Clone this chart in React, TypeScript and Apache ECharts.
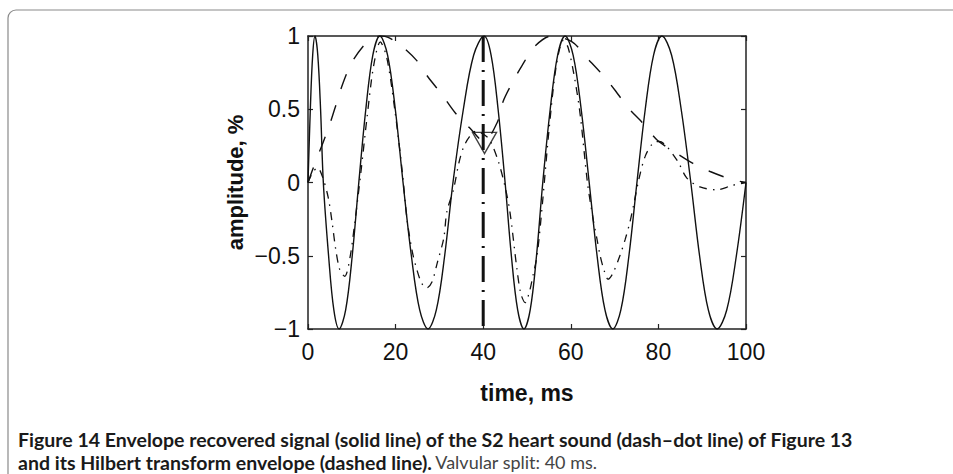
import React, { useEffect, useRef } from 'react';
import * as echarts from 'echarts';

// Envelope recovered signal (solid line)
const solidTime = [0, 0.53, 1.07, 1.6, 2.23, 2.87, 3.5, 4.7, 5.9, 7.1, 8.6, 10.1, 11.6, 13.2, 14.8, 16.4, 18.17, 19.93, 21.7, 23.6, 25.5, 27.4, 29.3, 31.2, 33.1, 35.47, 37.83, 40.2, 41.8, 43.4, 45, 46.43, 47.87, 49.3, 50.73, 52.17, 53.6, 55.3, 57.0, 58.7, 60.53, 62.37, 64.2, 66.0, 67.8, 69.6, 71.43, 73.27, 75.1, 77.0, 78.9, 80.8, 83.0, 85.2, 87.4, 89.4, 91.4, 93.4, 95.6, 97.8, 100];
const solidAmp = [0, 0.5, 0.87, 1, 0.87, 0.5, 0, -0.5, -0.87, -1, -0.87, -0.5, 0, 0.5, 0.87, 1, 0.87, 0.5, 0, -0.5, -0.87, -1, -0.87, -0.5, 0, 0.5, 0.87, 1, 0.87, 0.5, 0, -0.5, -0.87, -1, -0.87, -0.5, 0, 0.5, 0.87, 1, 0.87, 0.5, 0, -0.5, -0.87, -1, -0.87, -0.5, 0, 0.5, 0.87, 1, 0.87, 0.5, 0, -0.5, -0.87, -1, -0.87, -0.5, 0];

// Hilbert transform envelope (dashed line)
const hilbertTime = [0, 1.7, 3.4, 5, 6.6, 8, 10, 12.6, 14.5, 16.8, 18.3, 21, 24.9, 27.4, 30.6, 33.5, 37, 40.2, 43.2, 44.5, 46.8, 48.9, 51.8, 55.5, 60.3, 63.7, 67.1, 70.1, 73.1, 76.3, 79.7, 83.1, 87.9, 91.8, 96.8, 100];
const hilbertAmp = [0, 0.14, 0.27, 0.4, 0.55, 0.68, 0.82, 0.93, 0.98, 1.0, 0.99, 0.94, 0.83, 0.72, 0.6, 0.48, 0.37, 0.28, 0.41, 0.55, 0.69, 0.8, 0.93, 1.0, 0.96, 0.85, 0.74, 0.63, 0.51, 0.41, 0.29, 0.22, 0.13, 0.075, 0.02, 0];

// S2 heart sound (dash-dot line)
const s2Time = [0, 1.1, 2.2, 3.3, 4.6, 5.5, 6.3, 7.3, 8.4, 9.6, 10.7, 12.0, 13.5, 15, 16.5, 18, 19.8, 21.5, 22.6, 23.8, 24.9, 26, 27.1, 28.3, 29.5, 31, 31.7, 33.2, 34.5, 35.5, 36.8, 38.3, 40, 41.5, 43.5, 45, 46.1, 47.7, 48.6, 49.6, 50.6, 51.4, 52.3, 53.5, 55, 56.7, 58.3, 59.4, 61, 62.2, 63.8, 65.1, 66, 66.7, 67.6, 68.5, 69.6, 71.2, 72.4, 73.5, 74.3, 75.6, 77, 78.8, 80.2, 81.8, 84.5, 86.5, 89.5, 93.4, 96.8, 100];
const s2Amp = [0, 0.07, 0.1, 0.04, -0.1, -0.27, -0.45, -0.6, -0.64, -0.51, -0.27, 0.05, 0.45, 0.8, 0.96, 0.85, 0.5, 0.08, -0.25, -0.47, -0.6, -0.69, -0.72, -0.68, -0.55, -0.38, -0.2, -0.05, 0.14, 0.24, 0.31, 0.35, 0.33, 0.29, 0.14, -0.03, -0.2, -0.59, -0.76, -0.82, -0.74, -0.63, -0.5, -0.15, 0.35, 0.8, 0.97, 0.92, 0.69, 0.45, 0.0, -0.25, -0.39, -0.5, -0.6, -0.66, -0.62, -0.5, -0.39, -0.27, -0.16, 0.03, 0.18, 0.27, 0.28, 0.25, 0.14, 0.03, -0.03, -0.05, -0.02, 0];

// Valvular split marker
const splitTime = 40;
const splitRange = [1, -1];
const markerPoint = [40.3, 0.27];

const xTicks = [0, 20, 40, 60, 80, 100];
const yTicks = [-1, -0.5, 0, 0.5, 1];
const yTickLabels = ['\u22121', '\u22120.5', '0', '0.5', '1'];

const captionLine1 = 'Figure 14 Envelope recovered signal (solid line) of the S2 heart sound (dash\u2013dot line) of Figure 13';
const captionLine2Bold = 'and its Hilbert transform envelope (dashed line).';
const captionLine2Normal = 'Valvular split: 40 ms.';

const pairs = (t: number[], v: number[]) => t.map((x, i) => [x, v[i]]);

const INK = '#111';
const AXIS = '#222';
const labelFont = '"Liberation Sans", Arial, Helvetica, sans-serif';
const capFont = 'Lato, "Open Sans", sans-serif';

function buildOption() {
  const axisCommon = {
    type: 'value' as const,
    axisLine: { show: true, onZero: false, lineStyle: { color: AXIS, width: 1.5 } },
    axisTick: { show: true, inside: true, length: 5, lineStyle: { color: AXIS, width: 1.2 } },
    splitLine: { show: false },
  };
  return {
    animation: false,
    backgroundColor: '#fff',
    grid: { left: 308, right: 207, top: 36, bottom: 145, containLabel: false },
    xAxis: [
      {
        ...axisCommon,
        position: 'bottom',
        min: xTicks[0],
        max: xTicks[xTicks.length - 1],
        interval: 20,
        name: 'time, ms',
        nameLocation: 'middle',
        nameGap: 52,
        nameTextStyle: { fontFamily: labelFont, fontWeight: 'bold', fontSize: 23, color: INK },
        axisLabel: { show: true, margin: 11, fontFamily: labelFont, fontSize: 23, color: INK },
      },
      {
        ...axisCommon,
        position: 'top',
        min: xTicks[0],
        max: xTicks[xTicks.length - 1],
        interval: 20,
        axisLabel: { show: false },
      },
    ],
    yAxis: [
      {
        ...axisCommon,
        position: 'left',
        min: yTicks[0],
        max: yTicks[yTicks.length - 1],
        interval: 0.5,
        name: 'amplitude, %',
        nameLocation: 'middle',
        nameGap: 62,
        nameTextStyle: { fontFamily: labelFont, fontWeight: 'bold', fontSize: 22, color: INK },
        axisLabel: {
          show: true,
          margin: 8,
          fontFamily: labelFont,
          fontSize: 23,
          color: INK,
          formatter: (v: number) => {
            const i = yTicks.findIndex((t) => Math.abs(t - v) < 1e-9);
            return i >= 0 ? yTickLabels[i] : String(v);
          },
        },
      },
      {
        ...axisCommon,
        position: 'right',
        min: yTicks[0],
        max: yTicks[yTicks.length - 1],
        interval: 0.5,
        axisLabel: { show: false },
      },
    ],
    series: [
      {
        name: 'envelope recovered',
        type: 'line',
        data: pairs(solidTime, solidAmp),
        smooth: 0.35,
        symbol: 'none',
        lineStyle: { color: INK, width: 1.4, type: 'solid' },
        silent: true,
        z: 3,
      },
      {
        name: 'Hilbert envelope',
        type: 'line',
        data: pairs(hilbertTime, hilbertAmp),
        smooth: 0.3,
        symbol: 'none',
        lineStyle: { color: INK, width: 1.4, type: [16, 17] },
        silent: true,
        z: 3,
      },
      {
        name: 'S2 heart sound',
        type: 'line',
        data: pairs(s2Time, s2Amp),
        smooth: 0.3,
        symbol: 'none',
        lineStyle: { color: INK, width: 1.3, type: [8, 6, 1.5, 6] },
        silent: true,
        z: 3,
      },
      {
        name: 'split',
        type: 'line',
        data: splitRange.map((v) => [splitTime, v]),
        symbol: 'none',
        lineStyle: { color: INK, width: 3, type: [26, 8, 2, 8] },
        silent: true,
        z: 4,
      },
      {
        name: 'marker',
        type: 'scatter',
        data: [markerPoint],
        symbol: 'triangle',
        symbolRotate: 180,
        symbolSize: [24, 21],
        itemStyle: { color: 'rgba(0,0,0,0)', borderColor: INK, borderWidth: 1.4 },
        silent: true,
        z: 5,
      },
    ],
    graphic: [
      {
        type: 'rect',
        shape: { x: 8, y: 10, width: 960, height: 480, r: 8 },
        style: { fill: 'none', stroke: '#8a8a8a', lineWidth: 1.2 },
        silent: true,
        z: -10,
      },
      {
        type: 'text',
        left: 18,
        top: 429,
        style: {
          text: captionLine1,
          fontFamily: capFont,
          fontWeight: 'bold',
          fontSize: 19.5,
          fill: '#1a1a1a',
        },
      },
      {
        type: 'text',
        left: 18,
        top: 452,
        style: {
          text: '{b|' + captionLine2Bold + '} {n|' + captionLine2Normal + '}',
          rich: {
            b: { fontFamily: capFont, fontWeight: 'bold', fontSize: 19.5, fill: '#1a1a1a' },
            n: { fontFamily: capFont, fontWeight: 'normal', fontSize: 18, fill: '#444' },
          },
        },
      },
    ],
  };
}

export default function App() {
  const ref = useRef<HTMLDivElement>(null);
  useEffect(() => {
    if (!ref.current) return;
    const chart = echarts.init(ref.current, null, { renderer: 'svg' });
    chart.setOption(buildOption() as any);
    return () => chart.dispose();
  }, []);
  return (
    <div
      ref={ref}
      style={{ position: 'absolute', left: 0, top: 0, width: 953, height: 474, background: '#fff' }}
    />
  );
}
